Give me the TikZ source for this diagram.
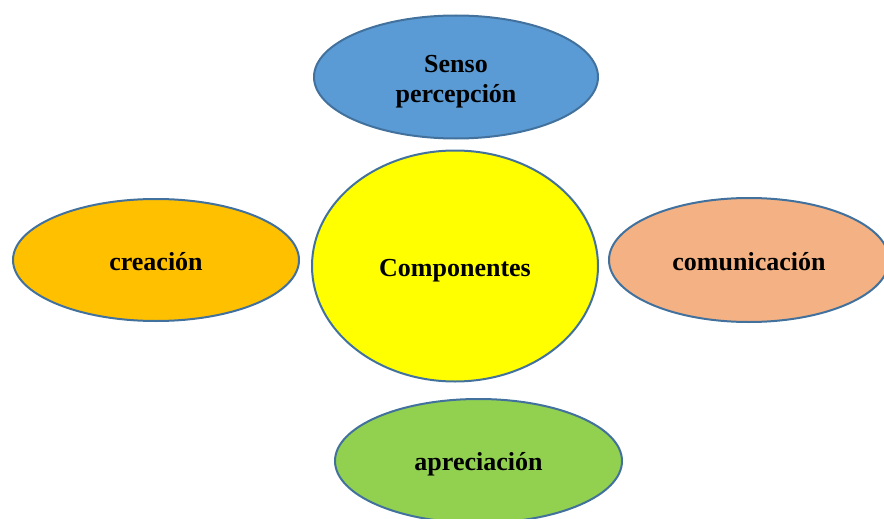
\documentclass[tikz,border=0pt]{standalone}
\usepackage{fontspec}
\setmainfont{Liberation Serif}
\usetikzlibrary{shapes.geometric}
\definecolor{edgeblue}{HTML}{41719C}
\definecolor{cblue}{HTML}{5B9BD5}
\definecolor{cyellow}{HTML}{FFFF00}
\definecolor{corange}{HTML}{FFC000}
\definecolor{csalmon}{HTML}{F4B183}
\definecolor{cgreen}{HTML}{92D050}
\newcommand{\placetext}[2]{\raisebox{#1}[0pt][0pt]{#2}}
\tikzset{
  oval/.style={ellipse, draw=edgeblue, line width=2pt, inner sep=0pt, align=center,
    font=\fontsize{26}{30}\selectfont\bfseries}
}
\begin{document}
\begin{tikzpicture}[x=1pt,y=-1pt]
\useasboundingbox (0,0) rectangle (884,519);
\begin{scope}
\clip (0,0) rectangle (884,519);
\node[oval, fill=cblue, minimum width=284, minimum height=123] (senso) at (456,77) {\placetext{4.5pt}{\begin{tabular}[t]{@{}c@{}}Senso\\percepción\end{tabular}}};
\node[oval, fill=cyellow, minimum width=286, minimum height=231] (comp) at (455,266) {\placetext{-10pt}{Componentes}};
\node[oval, fill=corange, minimum width=286, minimum height=122] (crea) at (156,260) {\placetext{-10pt}{creación}};
\node[oval, fill=csalmon, minimum width=280, minimum height=124] (comu) at (749,260) {\placetext{-10pt}{comunicación}};
\node[oval, fill=cgreen, minimum width=287, minimum height=124] (apre) at (478.5,461) {\placetext{-9pt}{apreciación}};
\end{scope}
\end{tikzpicture}
\end{document}
